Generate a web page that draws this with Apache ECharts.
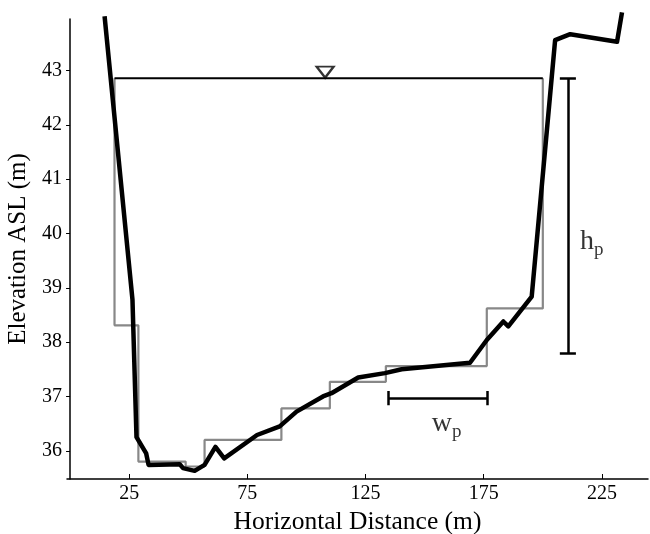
<!DOCTYPE html>
<html>
<head>
<meta charset="utf-8">
<script src="https://cdn.jsdelivr.net/npm/echarts@6/dist/echarts.min.js"></script>
<style>
  html, body { margin: 0; padding: 0; background: #fff; }
  #chart { width: 650px; height: 534px; }
</style>
</head>
<body>
<div id="chart"></div>
<script>
// channel bed profile (black)
const profileX = [14.6, 26.4, 28.1, 32.2, 33.2, 46.4, 47.8, 52.7, 56.9, 61.5, 65.2, 79.1, 88.7, 95.8, 107.0, 110.6, 121.9, 133.2, 140.3, 169.2, 176.3, 183.3, 185.4, 195.3, 205.2, 211.6, 231.4, 233.5]
const profileY = [44.0, 38.78, 36.25, 35.95, 35.74, 35.75, 35.68, 35.63, 35.74, 36.07, 35.86, 36.29, 36.45, 36.72, 37.0, 37.06, 37.35, 37.43, 37.5, 37.62, 38.04, 38.38, 38.29, 38.84, 43.56, 43.67, 43.53, 44.07]

// stepped approximation (grey)
const stepEdges = [18.8, 28.9, 48.9, 56.9, 89.4, 109.9, 133.6, 176.3, 200]
const stepLevels = [38.31, 35.80, 35.71, 36.20, 36.78, 37.27, 37.56, 38.62]
const waterLevel = 42.86

// h_p and w_p markers
const hpX = 210.6
const hpRange = [37.8, 42.86]
const wpY = 36.97
const wpRange = [134.6, 176.5]

const xTicks = [25, 75, 125, 175, 225]
const yTicks = [36, 37, 38, 39, 40, 41, 42, 43]

const font = 'Liberation Serif'

const profile = profileX.map((x, i) => [x, profileY[i]])

const steps = [[stepEdges[0], waterLevel]]
stepLevels.forEach((lv, i) => {
  steps.push([stepEdges[i], lv])
  steps.push([stepEdges[i + 1], lv])
})
steps.push([stepEdges[stepEdges.length - 1], waterLevel])

const capX = 3.4   // half-width of h_p caps (x units)
const capY = 0.13  // half-height of w_p caps (y units)
const barLines = [
  { coords: [[hpX, hpRange[0]], [hpX, hpRange[1]]] },
  { coords: [[hpX - capX, hpRange[0]], [hpX + capX, hpRange[0]]] },
  { coords: [[hpX - capX, hpRange[1]], [hpX + capX, hpRange[1]]] },
  { coords: [[wpRange[0], wpY], [wpRange[1], wpY]] },
  { coords: [[wpRange[0], wpY - capY], [wpRange[0], wpY + capY]] },
  { coords: [[wpRange[1], wpY - capY], [wpRange[1], wpY + capY]] }
]

const subRich = {
  m: { fontSize: 28, fontFamily: font, color: '#000', lineHeight: 30, verticalAlign: 'top' },
  s: { fontSize: 19, fontFamily: font, color: '#000', lineHeight: 19, verticalAlign: 'top', padding: [13, 0, 0, 0] }
}

const chart = echarts.init(document.getElementById('chart'))
chart.setOption({
  animation: false,
  grid: { left: 67, right: 2, top: 19, bottom: 55, outerBoundsMode: 'none', containLabel: false },
  xAxis: {
    type: 'value',
    min: -1.3,
    max: 244.5,
    name: 'Horizontal Distance (m)',
    nameLocation: 'middle',
    nameGap: 29,
    nameTextStyle: { fontFamily: font, fontSize: 25.5, color: '#000' },
    axisLine: { lineStyle: { color: '#000', width: 1.5 } },
    axisTick: { inside: true, length: 5, customValues: xTicks, lineStyle: { color: '#000' } },
    axisLabel: { customValues: xTicks, margin: 5, fontFamily: font, fontSize: 20, color: '#000' },
    splitLine: { show: false }
  },
  yAxis: {
    type: 'value',
    min: 35.48,
    max: 43.95,
    name: 'Elevation ASL (m)',
    nameLocation: 'middle',
    nameGap: 36,
    nameMoveOverlap: false,
    nameTextStyle: { fontFamily: font, fontSize: 25, color: '#000' },
    axisLine: { show: true, lineStyle: { color: '#000', width: 1.5 } },
    axisTick: { show: true, length: 4, customValues: yTicks, lineStyle: { color: '#000' } },
    axisLabel: { customValues: yTicks, margin: 5, fontFamily: font, fontSize: 20, color: '#000' },
    splitLine: { show: false }
  },
  series: [
    {
      type: 'line',
      data: steps,
      symbol: 'none',
      lineStyle: { color: '#888', width: 2.2 },
      z: 2
    },
    {
      type: 'line',
      data: [[stepEdges[0], waterLevel], [stepEdges[stepEdges.length - 1], waterLevel]],
      symbol: 'none',
      lineStyle: { color: '#000', width: 2 },
      z: 3
    },
    {
      type: 'line',
      data: profile,
      symbol: 'none',
      clip: false,
      lineStyle: { color: '#000', width: 4.5, join: 'round' },
      z: 4
    },
    {
      type: 'lines',
      coordinateSystem: 'cartesian2d',
      data: barLines,
      lineStyle: { color: '#000', width: 2.5, opacity: 1 },
      z: 4
    },
    {
      type: 'scatter',
      data: [[107.9, waterLevel]],
      symbol: 'triangle',
      symbolRotate: 180,
      symbolSize: [17, 11],
      symbolOffset: [0, -6],
      itemStyle: { color: '#fff', borderColor: '#000', borderWidth: 2.2 },
      z: 5
    },
    {
      type: 'scatter',
      data: [[215.7, 39.83], [153.0, 36.48]],
      symbolSize: 0,
      label: {
        show: true,
        position: 'right',
        distance: 0,
        formatter: (p) => p.dataIndex === 0 ? '{m|h}{s|p}' : '{m|w}{s|p}',
        rich: subRich
      },
      z: 5
    }
  ]
})
</script>
</body>
</html>
